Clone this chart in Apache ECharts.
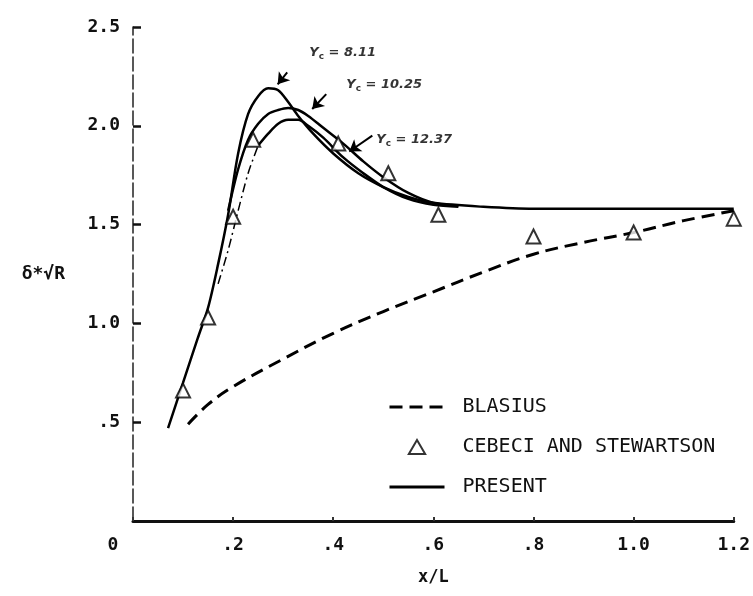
<!DOCTYPE html>
<html>
<head>
<meta charset="utf-8">
<script src="https://cdn.jsdelivr.net/npm/echarts@6/dist/echarts.min.js"></script>
<style>
html, body { margin: 0; padding: 0; background: #fff; }
#main { width: 753px; height: 596px; }
</style>
</head>
<body>
<div id="main"></div>
<script>
// 数据
var xTicks = [0, 0.2, 0.4, 0.6, 0.8, 1.0, 1.2];
var yTicks = [0, 0.5, 1.0, 1.5, 2.0, 2.5];

var blasiusX = [0.11, 0.15, 0.2, 0.3, 0.4, 0.5, 0.6, 0.7, 0.8, 0.9, 1.0, 1.1, 1.2];
var blasiusY = [0.49, 0.59, 0.68, 0.82, 0.95, 1.06, 1.16, 1.26, 1.35, 1.41, 1.46, 1.52, 1.57];

var cebeciX = [0.10, 0.15, 0.20, 0.24, 0.41, 0.51, 0.61, 0.80, 1.00, 1.20];
var cebeciY = [0.66, 1.03, 1.54, 1.93, 1.91, 1.76, 1.55, 1.44, 1.46, 1.53];

// Yc = 8.11
var presentAX = [0.07, 0.10, 0.13, 0.15, 0.17, 0.19, 0.21, 0.23, 0.25, 0.27, 0.29, 0.31, 0.33, 0.36, 0.40, 0.45, 0.50, 0.55, 0.60, 0.70, 0.80, 0.90, 1.0, 1.1, 1.2];
var presentAY = [0.47, 0.70, 0.93, 1.08, 1.30, 1.55, 1.86, 2.06, 2.15, 2.19, 2.18, 2.12, 2.05, 1.96, 1.86, 1.76, 1.69, 1.64, 1.61, 1.59, 1.58, 1.58, 1.58, 1.58, 1.58];
// Yc = 10.25
var presentBX = [0.19, 0.21, 0.23, 0.25, 0.27, 0.29, 0.31, 0.33, 0.35, 0.38, 0.42, 0.46, 0.50, 0.55, 0.60, 0.65];
var presentBY = [1.57, 1.78, 1.93, 2.01, 2.06, 2.08, 2.09, 2.08, 2.05, 1.99, 1.91, 1.82, 1.74, 1.66, 1.61, 1.595];
// Yc = 12.37
var presentCX = [0.25, 0.27, 0.29, 0.31, 0.33, 0.35, 0.38, 0.42, 0.46, 0.50, 0.55, 0.60, 0.65];
var presentCY = [1.90, 1.96, 2.01, 2.03, 2.03, 2.00, 1.94, 1.84, 1.76, 1.69, 1.63, 1.60, 1.59];
var presentCdashX = [0.17, 0.19, 0.21, 0.23, 0.25];
var presentCdashY = [1.20, 1.37, 1.57, 1.76, 1.90];

// 注释 (文字起点, 箭头尾, 箭头头)
var annText = ['8.11', '10.25', '12.37'];
var annX = [0.352, 0.426, 0.486];
var annY = [2.37, 2.21, 1.93];
var arrowFrom = [[0.308, 2.27], [0.386, 2.16], [0.478, 1.95]];
var arrowTo = [[0.289, 2.21], [0.358, 2.085], [0.432, 1.87]];

function zip(xs, ys) {
    var out = [];
    for (var i = 0; i < xs.length; i++) out.push([xs[i], ys[i]]);
    return out;
}

var monoFont = '"DejaVu Sans Mono", "Liberation Mono", monospace';

var annData = [];
for (var i = 0; i < annText.length; i++) {
    annData.push({ value: [annX[i], annY[i]], name: annText[i] });
}
var arrowData = [];
for (var j = 0; j < arrowFrom.length; j++) {
    arrowData.push([{ coord: arrowFrom[j] }, { coord: arrowTo[j] }]);
}

var option = {
    animation: false,
    backgroundColor: '#fff',
    grid: { left: 133, right: 17, top: 27, bottom: 75 },
    legend: {
        data: [
            { name: 'BLASIUS', itemStyle: { opacity: 0 }, lineStyle: { width: 3 } },
            { name: 'CEBECI AND STEWARTSON', icon: 'path://M7,0 L14,12 L0,12 Z' },
            { name: 'PRESENT', itemStyle: { opacity: 0 }, lineStyle: { width: 3 } }
        ],
        orient: 'vertical',
        left: 383,
        top: 391,
        itemWidth: 55,
        itemHeight: 14,
        itemGap: 18,
        selectedMode: false,
        textStyle: {
            fontFamily: monoFont,
            fontSize: 20,
            lineHeight: 22,
            color: '#111',
            padding: [0, 0, 0, 13]
        }
    },
    xAxis: {
        type: 'value',
        min: 0,
        max: 1.2,
        interval: 0.2,
        name: 'x/L',
        nameLocation: 'middle',
        nameGap: 48,
        nameTextStyle: { fontFamily: monoFont, fontSize: 17, fontWeight: 'bold', color: '#111' },
        splitLine: { show: false },
        axisLine: { lineStyle: { color: '#111', width: 3 } },
        axisTick: { inside: true, length: 4, lineStyle: { color: '#333', width: 2 } },
        axisLabel: {
            margin: 15,
            fontFamily: monoFont,
            fontSize: 18,
            fontWeight: 'bold',
            color: '#111',
            formatter: function (v) {
                if (v === 0) return '{z|0}';
                return v.toFixed(1).replace(/^0/, '');
            },
            rich: {
                z: { fontFamily: monoFont, fontSize: 18, fontWeight: 'bold', color: '#111', padding: [0, 40, 0, 0] }
            }
        }
    },
    yAxis: {
        type: 'value',
        min: 0,
        max: 2.5,
        interval: 0.5,
        name: 'δ*√R',
        nameLocation: 'middle',
        nameRotate: 0,
        nameGap: 68,
        nameTextStyle: { fontFamily: monoFont, fontSize: 18, fontWeight: 'bold', color: '#111', padding: [0, 0, 52, 0] },
        splitLine: { show: false },
        axisLine: { lineStyle: { color: '#222', width: 1.5, type: [14, 4] } },
        axisTick: { inside: true, length: 8, lineStyle: { color: '#111', width: 2.5 } },
        axisLabel: {
            margin: 13,
            fontFamily: monoFont,
            fontSize: 18,
            fontWeight: 'bold',
            color: '#111',
            formatter: function (v) {
                if (v === 0) return '';
                return v.toFixed(1).replace(/^0/, '');
            }
        }
    },
    series: [
        {
            name: 'BLASIUS',
            type: 'line',
            smooth: 0.4,
            symbol: 'none',
            lineStyle: { color: '#000', width: 3, type: [13, 7] },
            itemStyle: { color: '#000' },
            data: zip(blasiusX, blasiusY)
        },
        {
            name: 'CEBECI AND STEWARTSON',
            type: 'scatter',
            symbol: 'triangle',
            symbolSize: 14,
            itemStyle: { color: '#fff', borderColor: '#000', borderWidth: 2 },
            z: 5,
            data: zip(cebeciX, cebeciY)
        },
        {
            name: 'PRESENT',
            type: 'line',
            smooth: 0.3,
            symbol: 'none',
            lineStyle: { color: '#000', width: 2.5 },
            itemStyle: { color: '#000' },
            data: zip(presentAX, presentAY)
        },
        {
            name: 'PRESENT',
            type: 'line',
            smooth: 0.3,
            symbol: 'none',
            lineStyle: { color: '#000', width: 2.5 },
            itemStyle: { color: '#000' },
            data: zip(presentBX, presentBY)
        },
        {
            name: 'PRESENT',
            type: 'line',
            smooth: 0.3,
            symbol: 'none',
            lineStyle: { color: '#000', width: 2.5 },
            itemStyle: { color: '#000' },
            data: zip(presentCX, presentCY)
        },
        {
            name: 'PRESENT',
            type: 'line',
            smooth: 0.3,
            symbol: 'none',
            lineStyle: { color: '#000', width: 1.5, type: [9, 4, 2, 4] },
            itemStyle: { color: '#000' },
            data: zip(presentCdashX, presentCdashY)
        },
        {
            name: 'annotations',
            type: 'scatter',
            symbolSize: 0,
            silent: true,
            label: {
                show: true,
                position: 'right',
                distance: 0,
                formatter: function (p) {
                    return '{a|Y}{b|c}{a| = ' + p.name + '}';
                },
                rich: {
                    a: { fontFamily: '"DejaVu Sans", sans-serif', fontSize: 13, fontStyle: 'italic', fontWeight: 'bold', color: '#000' },
                    b: { fontFamily: '"DejaVu Sans", sans-serif', fontSize: 9, fontWeight: 'bold', color: '#000', padding: [8, 0, 0, 0] }
                }
            },
            markLine: {
                silent: true,
                symbol: ['none', 'arrow'],
                symbolSize: 11,
                label: { show: false },
                lineStyle: { color: '#000', width: 2, type: 'solid' },
                data: arrowData
            },
            data: annData
        }
    ]
};

var chart = echarts.init(document.getElementById('main'));
chart.setOption(option);
</script>
</body>
</html>
